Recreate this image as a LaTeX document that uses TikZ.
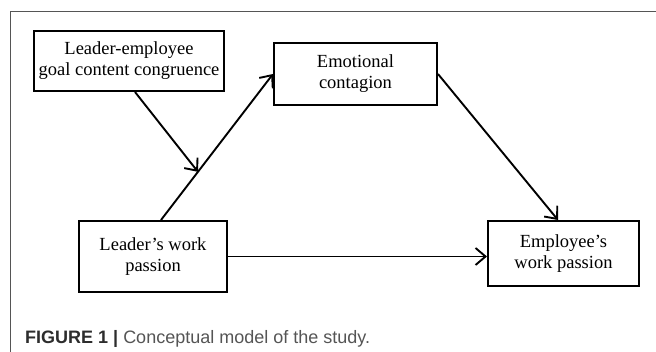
\documentclass[tikz,border=0pt]{standalone}
\usepackage{fontspec}
\setmainfont{Liberation Serif}
\newfontfamily\capfont{Liberation Sans}
\usetikzlibrary{arrows.meta,calc}
\definecolor{framegray}{RGB}{85,85,85}
\definecolor{capdark}{RGB}{45,45,45}
\definecolor{caplight}{RGB}{85,85,85}
\begin{document}
\begin{tikzpicture}[x=1pt,y=-1pt,
  box/.style={draw=black,line width=2pt,inner sep=0pt,align=center,
    font=\fontsize{18.5}{21}\selectfont},
  arr/.style={line width=1.9pt,-{Straight Barb[length=10pt,width=17pt]}}]
\useasboundingbox (0,0) rectangle (656,352);
\fill[white] (0,0) rectangle (656,352);
\draw[framegray,line width=1pt] (656,12) -- (10,12) -- (10,352);
\node[box,minimum width=190pt,minimum height=60pt] (b1) at (129,61) {Leader-employee\\goal content congruence};
\node[box,minimum width=163pt,minimum height=62pt] (b2) at (355.5,74) {Emotional\\contagion};
\node[box,minimum width=148pt,minimum height=71pt] (b3) at (153,256.5) {Leader’s work\\passion};
\node[box,minimum width=151pt,minimum height=65pt] (b4) at (563.5,253.5) {Employee’s\\work passion};
\coordinate (s3) at ([xshift=8pt]b3.north);
\coordinate (s1) at ([xshift=6pt]b1.south);
\coordinate (e4) at ([xshift=-5.5pt]b4.north);
\draw[arr] (s3) -- (b2.west);
\coordinate (m) at ($(s3)!0.33!(b2.west)$);
\draw[arr] (s1) -- (m);
\draw[arr] (b2.east) -- (e4);
\draw[arr] (b3.east) -- (b4.west |- b3.east);
\node[anchor=base west,inner sep=0pt,font=\capfont\fontsize{18}{21}\selectfont] (cap) at (25,344)
  {\textcolor{capdark}{\textbf{FIGURE 1 |}} \textcolor{caplight}{Conceptual model of the study.}};
\end{tikzpicture}
\end{document}
